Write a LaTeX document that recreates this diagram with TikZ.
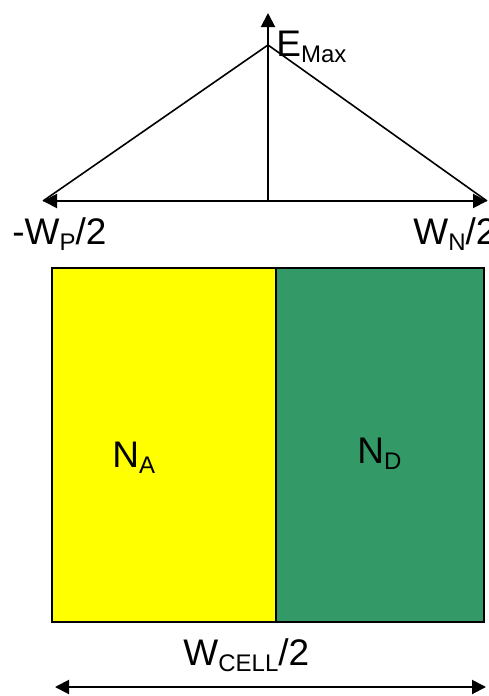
\documentclass[tikz,border=0pt]{standalone}
\usepackage{fontspec}
\setmainfont{Liberation Sans}
\usetikzlibrary{arrows.meta}

\definecolor{pyellow}{HTML}{FFFF00}
\definecolor{ngreen}{HTML}{339966}
\newcommand{\lowsub}[1]{\raisebox{-3pt}{\fontsize{12}{12}\selectfont #1}}

\begin{document}
\begin{tikzpicture}[x=0.5pt,y=-0.5pt,
  axis/.style={black,line width=1pt,-{Triangle[length=7pt,width=7pt]}},
  label/.style={shape=rectangle,draw=none,inner sep=0pt,anchor=base west,font=\fontsize{18.5}{20}\selectfont}]

\useasboundingbox (0,0) rectangle (488,696);

%% - Field profile
%% - --------------------------------------
\coordinate (origin) at (268,201);
\coordinate (top) at (268,13);
\coordinate (apex) at (268,45);
\coordinate (left) at (43,201);
\coordinate (right) at (487,201);

\draw[axis] (origin) -- (top);
\draw[axis] (origin) -- (left);
\draw[axis] (origin) -- (right);
\draw[black,line width=0.8pt] (left) -- (apex) -- (right);

%% - Cell regions
%% - --------------------------------------
\filldraw[draw=black,fill=pyellow,line width=1.2pt] (52,268) rectangle (276,622);
\filldraw[draw=black,fill=ngreen,line width=1.2pt] (276,268) rectangle (484,622);

%% - Cell width
%% - --------------------------------------
\coordinate (cellL) at (55,687);
\coordinate (cellR) at (486,687);
\draw[black,line width=1pt,{Triangle[length=7pt,width=7pt]}-{Triangle[length=7pt,width=7pt]}] (cellL) -- (cellR);

%% - Draw Text
%% - --------------------------------------
\node[label] (emax) at (276,56) {E\lowsub{Max}};
\node[label] (wp) at (12,244) {-W\lowsub{P}/2};
\node[label] (wn) at (413,244) {W\lowsub{N}/2};
\node[label] (na) at (112,467) {N\lowsub{A}};
\node[label] (nd) at (357,463) {N\lowsub{D}};
\node[label] (wcell) at (183,665) {W\lowsub{CELL}/2};

\end{tikzpicture}
\end{document}
